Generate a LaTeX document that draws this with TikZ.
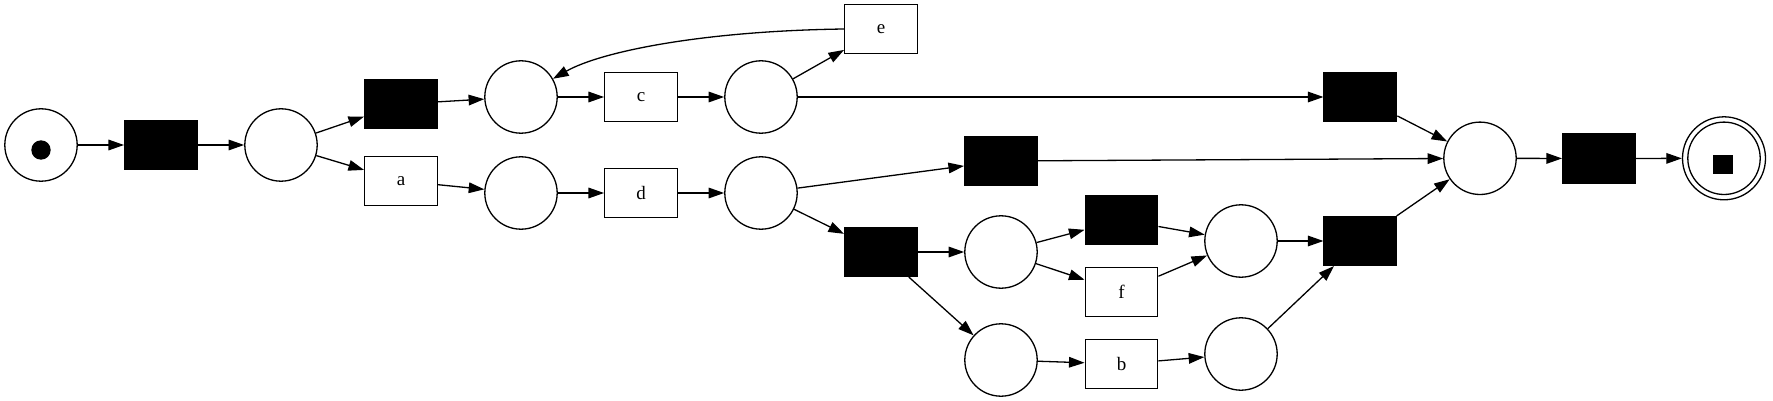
\documentclass[tikz,border=0pt]{standalone}
\usepackage{fontspec}
\setmainfont{Liberation Serif}
\usetikzlibrary{arrows.meta}
\begin{document}
\begin{tikzpicture}[x=0.5pt,y=-0.5pt,
  place/.style={circle,draw,line width=0.65pt,minimum size=36.2pt,inner sep=0pt},
  trans/.style={rectangle,draw,line width=0.65pt,minimum width=36.3pt,minimum height=24.4pt,inner sep=0pt,font=\fontsize{9.5}{11}\selectfont},
  silent/.style={trans,fill=black},
  arr/.style={-{Triangle[length=7.8pt,width=5.3pt]},line width=0.65pt}]
\useasboundingbox (0,0) rectangle (1773,401);
% places
\node[place] (p0) at (41,145) {};
\node[circle,fill=black,minimum size=9.7pt,inner sep=0pt] (tok0) at (41,150) {};
\node[place] (p1) at (281,145) {};
\node[place] (p2) at (521,97) {};
\node[place] (p3) at (521,193) {};
\node[place] (p4) at (761,97) {};
\node[place] (p5) at (761,193) {};
\node[place] (p6) at (1001,252) {};
\node[place] (p7) at (1001,360) {};
\node[place] (p9) at (1241,241) {};
\node[place] (p10) at (1241,354) {};
\node[place] (p8) at (1480,158.3) {};
\node[place] (pend) at (1724,158.3) {};
\node[circle,draw,line width=0.65pt,minimum size=41.5pt,inner sep=0pt] (pendo) at (1724,158.3) {};
\node[rectangle,fill=black,minimum width=10pt,minimum height=9.5pt,inner sep=0pt] (tokend) at (1723.4,164.3) {};
% transitions
\node[silent] (t1) at (161,145) {};
\node[silent] (t2) at (401,104) {};
\node[trans] (a) at (401,181) {a};
\node[trans] (c) at (641,97) {c};
\node[trans] (d) at (641,193) {d};
\node[trans] (e) at (881,29) {e};
\node[silent] (t4) at (881,252) {};
\node[silent] (t3) at (1001,161) {};
\node[silent] (t5) at (1121.5,220) {};
\node[trans] (f) at (1121.5,292) {f};
\node[trans] (b) at (1121.5,364) {b};
\node[silent] (t6) at (1360.4,97) {};
\node[silent] (t8) at (1360.4,241) {};
\node[silent] (t7) at (1599,158.5) {};
% arcs
\draw[arr] (p0) -- (t1);
\draw[arr] (t1) -- (p1);
\draw[arr] (p1) -- (t2);
\draw[arr] (p1) -- (a);
\draw[arr] (t2) -- (p2);
\draw[arr] (a) -- (p3);
\draw[arr] (p2) -- (c);
\draw[arr] (p3) -- (d);
\draw[arr] (c) -- (p4);
\draw[arr] (d) -- (p5);
\draw[arr] (p4) -- (e);
\draw[arr] (e.west) .. controls (700,31) and (600,52) .. (p2);
\draw[arr] (p4) -- (t6);
\draw[arr] (p5) -- (t3);
\draw[arr] (p5) -- (t4);
\draw[arr] (t4) -- (p6);
\draw[arr] (t4) -- (p7);
\draw[arr] (p6) -- (t5);
\draw[arr] (p6) -- (f);
\draw[arr] (p7) -- (b);
\draw[arr] (t5) -- (p9);
\draw[arr] (f) -- (p9);
\draw[arr] (b) -- (p10);
\draw[arr] (p9) -- (t8);
\draw[arr] (p10) -- (t8);
\draw[arr] (t6) -- (p8);
\draw[arr] (t3) -- (p8);
\draw[arr] (t8) -- (p8);
\draw[arr] (p8) -- (t7);
\draw[arr] (t7) -- (pendo);
\end{tikzpicture}
\end{document}
